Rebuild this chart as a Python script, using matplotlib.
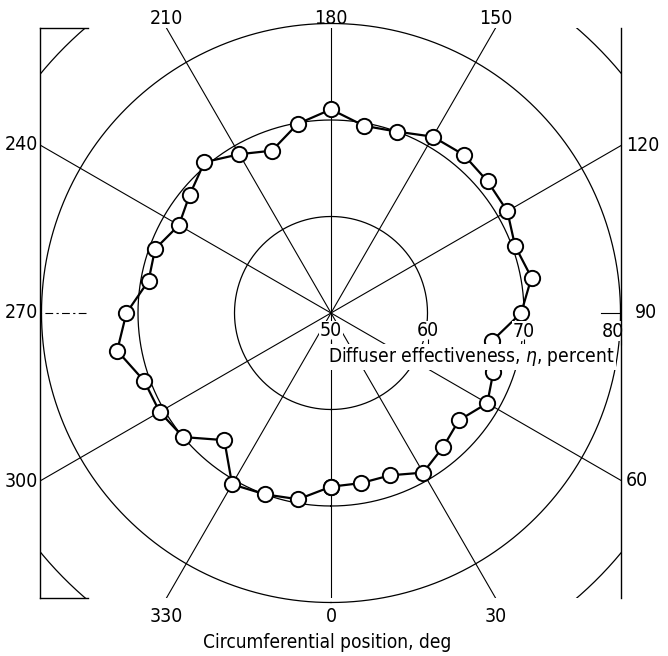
import numpy as np
import matplotlib.pyplot as plt
from matplotlib.patches import Rectangle
from matplotlib.lines import Line2D
from matplotlib.transforms import offset_copy

# Circumferential position (deg) and diffuser effectiveness (percent)
position_deg = [0, 10, 20, 30, 40, 50, 60, 70, 80, 90, 100, 110,
                120, 130, 140, 150, 160, 170, 180, 190, 200, 210, 220, 230,
                240, 250, 260, 270, 280, 290, 300, 310, 320, 330, 340, 350]
effectiveness = [68.0, 67.9, 67.9, 69.1, 68.1, 67.3, 68.7, 67.9, 66.9, 69.7, 71.1, 70.3,
                 71.1, 71.2, 71.4, 71.1, 70.0, 69.7, 71.1, 69.9, 67.9, 69.0, 70.4, 69.1,
                 68.2, 69.4, 69.2, 71.2, 72.5, 70.6, 70.5, 70.0, 67.2, 70.5, 70.0, 69.6]

ring_values = [60, 70, 80]
corner_ring = 89
radial_ticks = [50, 60, 70, 80]
spoke_angles = [0, 30, 60, 120, 150, 180, 210, 240, 300, 330]
label_angles = [0, 30, 60, 90, 120, 150, 180, 210, 240, 270, 300, 330]

# geometry of the sheet (pixels)
W, H = 668, 656
CX, CY = 331, 313
K = 9.65          # pixels per percent
R0, RMAX = 50, 95
LEFT, RIGHT, TOP, BOTTOM = 40, 621, 28, 598

plt.rcParams['font.family'] = ['DejaVu Sans']
plt.rcParams['font.stretch'] = 'condensed'
FS = dict(fontstretch='condensed')

fig = plt.figure(figsize=(W / 100, H / 100), dpi=100)
half = (RMAX - R0) * K
ax = fig.add_axes([(CX - half) / W, (H - CY - half) / H, 2 * half / W, 2 * half / H],
                  projection='polar')
ax.set_theta_zero_location('S')
ax.set_theta_direction(1)
ax.set_ylim(R0, RMAX)
ax.set_xticks([])
ax.set_yticks([])
ax.grid(False)
ax.spines['polar'].set_visible(False)

frame = Rectangle((LEFT / W, 1 - BOTTOM / H), (RIGHT - LEFT) / W, (BOTTOM - TOP) / H,
                  transform=fig.transFigure, fill=False)

# rings and spokes
th = np.linspace(0, 2 * np.pi, 721)
for v in ring_values:
    ax.plot(th, np.full_like(th, v), color='k', lw=0.9, zorder=1)
ax.plot(th, np.full_like(th, corner_ring), color='k', lw=0.9, zorder=1, clip_path=frame)
for a in spoke_angles:
    ax.plot([np.deg2rad(a)] * 2, [R0, RMAX], color='k', lw=0.8, zorder=1, clip_path=frame)
ax.plot([np.deg2rad(270)] * 2, [75.4, RMAX], color='k', lw=0.8, ls=(0, (7, 3, 2, 3)),
        zorder=1, clip_path=frame)
ax.plot([np.deg2rad(90)] * 2, [78.0, RMAX], color='k', lw=0.8, zorder=1, clip_path=frame)

# sheet edges
for xs, ys in [([LEFT, LEFT], [TOP, BOTTOM]), ([RIGHT, RIGHT], [TOP, BOTTOM]),
               ([LEFT, 88], [TOP, TOP]), ([LEFT, 88], [BOTTOM, BOTTOM])]:
    fig.add_artist(Line2D(np.array(xs) / W, 1 - np.array(ys) / H, color='k', lw=1.0))

# data
theta = np.deg2rad(position_deg + position_deg[:1])
r = effectiveness + effectiveness[:1]
ax.plot(theta, r, color='k', lw=1.6, marker='o', ms=11, mfc='white', mec='k', mew=1.4,
        zorder=3)

# angle labels at the ends of the spokes
for a in label_angles:
    s, c = np.sin(np.deg2rad(a)), np.cos(np.deg2rad(a))
    tx = ((RIGHT - CX) if s > 0 else (CX - LEFT)) / abs(s) if abs(s) > 1e-9 else np.inf
    ty = ((BOTTOM - CY) if c > 0 else (CY - TOP)) / abs(c) if abs(c) > 1e-9 else np.inf
    if ty <= tx:
        x, y = CX + ty * s, CY + ty * c
        y = y - 10 if c < 0 else y + 18
        fig.text(x / W, 1 - y / H, str(a), ha='center', va='center', fontsize=14, **FS)
    else:
        x, y = CX + tx * s, CY + tx * c
        if s < 0:
            fig.text((x - 2) / W, 1 - y / H, str(a), ha='right', va='center', fontsize=14, **FS)
        else:
            gap = 14 if a == 90 else 5
            fig.text((x + gap) / W, 1 - y / H, str(a), ha='left', va='center', fontsize=14, **FS)

# radial scale along the 90 deg ray
for v in radial_ticks:
    dx = -8 if v == 80 else 0
    ax.annotate(str(v), xy=(np.deg2rad(90), v), xytext=(dx, -18), textcoords='offset pixels',
                ha='center', va='center', fontsize=14, zorder=5, **FS,
                bbox=dict(boxstyle='square,pad=0.05', fc='white', ec='none'))
tick_tr = offset_copy(ax.transData, fig=fig, x=0, y=-29, units='dots')
ax.plot(np.deg2rad([90] * len(radial_ticks)), radial_ticks, ls='none', marker='|',
        ms=5, color='k', mew=0.8, transform=tick_tr, zorder=5, clip_on=False)

fig.text(328 / W, 1 - 357 / H, 'Diffuser effectiveness, $\\eta$, percent', ha='left',
         va='center', fontsize=13.7, zorder=6, **FS,
         bbox=dict(boxstyle='square,pad=0.1', fc='white', ec='none'))
fig.text(327 / W, 1 - 643 / H, 'Circumferential position, deg', ha='center', va='center',
         fontsize=13.7, **FS)

fig.savefig('out.png', dpi=100)
